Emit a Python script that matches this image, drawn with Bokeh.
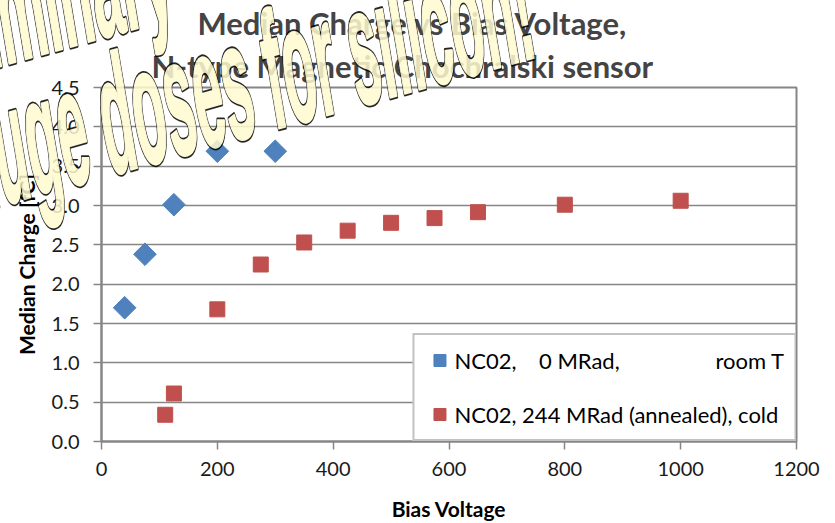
import math
from bokeh.plotting import figure
from bokeh.models import (Range1d, FixedTicker, NumeralTickFormatter, Legend,
                          LegendItem, Title, GridBox, Div)
from bokeh.embed import file_html
from bokeh.resources import INLINE

# ---------------- data ----------------
title_line1 = "Median Charge vs Bias Voltage,"
title_line2 = "N-type Magnetic Chochralski sensor"
x_label = "Bias Voltage"
y_label = "Median Charge [fC]"

x_ticks = [0, 200, 400, 600, 800, 1000, 1200]
y_ticks = [0.0, 0.5, 1.0, 1.5, 2.0, 2.5, 3.0, 3.5, 4.0, 4.5]

NB = "\u00a0"
s1_name = "NC02," + NB * 4 + "0 MRad," + NB * 17 + "room T"
s1_voltage = [40, 75, 125, 200, 300]
s1_charge = [1.70, 2.38, 3.01, 3.69, 3.69]

s2_name = "NC02, 244 MRad (annealed), cold"
s2_voltage = [110, 125, 200, 275, 350, 425, 500, 575, 650, 800, 1000]
s2_charge = [0.34, 0.61, 1.68, 2.25, 2.53, 2.68, 2.78, 2.84, 2.915, 3.01, 3.06]

watermark_line1 = "Preliminary"
watermark_line2 = "huge doses for silicon!"

# ---------------- styles ----------------
FONT = "Lato"
GRAY = "#868686"
BLUE = "#4F81BD"
RED = "#C0504D"
W, H = 835, 523

p = figure(width=W, height=H, output_backend="svg", toolbar_location=None,
           x_range=Range1d(0, 1200), y_range=Range1d(0, 4.5),
           min_border_left=101, min_border_right=39, min_border_top=84,
           min_border_bottom=81, background_fill_color="white",
           border_fill_color="white")

p.outline_line_color = GRAY
p.outline_line_width = 2

p.xgrid.visible = False
p.ygrid.grid_line_color = GRAY
p.ygrid.grid_line_width = 1.5
p.ygrid.ticker = FixedTicker(ticks=y_ticks)

p.xaxis.ticker = FixedTicker(ticks=x_ticks)
p.yaxis.ticker = FixedTicker(ticks=y_ticks)
p.yaxis.formatter = NumeralTickFormatter(format="0.0")

for ax in (p.xaxis[0], p.yaxis[0]):
    ax.axis_line_color = GRAY
    ax.axis_line_width = 2
    ax.major_tick_line_color = GRAY
    ax.major_tick_line_width = 1.5
    ax.major_tick_in = 0
    ax.major_tick_out = 8
    ax.minor_tick_line_color = None
    ax.major_label_text_font = FONT
    ax.major_label_text_font_size = "20px"
    ax.major_label_text_color = "#1a1a1a"
    ax.axis_label_text_font = FONT
    ax.axis_label_text_font_style = "bold"
    ax.axis_label_text_font_size = "21px"
    ax.axis_label_text_color = "black"

p.xaxis.axis_label = x_label
p.yaxis.axis_label = y_label
p.xaxis.major_label_standoff = 12
p.xaxis.axis_label_standoff = 17
p.yaxis.major_label_standoff = 14
p.yaxis.axis_label_standoff = 10

# titles (line 2 added first: closest to the frame)
t2 = Title(text=title_line2, text_font=FONT, text_font_style="bold",
           text_font_size="31px", align="left", offset=50, standoff=5)
t1 = Title(text=title_line1, text_font=FONT, text_font_style="bold",
           text_font_size="31px", align="left", offset=96, standoff=2)
p.add_layout(t2, "above")
p.add_layout(t1, "above")

r1 = p.scatter(s1_voltage, s1_charge, marker="square", angle=math.pi / 4,
               size=16, fill_color=BLUE, line_color=BLUE)
r2 = p.scatter(s2_voltage, s2_charge, marker="square", size=15,
               fill_color=RED, line_color=RED)

legend = Legend(items=[LegendItem(label=s1_name, renderers=[r1]),
                       LegendItem(label=s2_name, renderers=[r2])],
                location="bottom_right", margin=0, padding=10,
                glyph_width=30, glyph_height=30, label_standoff=-4,
                spacing=24, label_text_font=FONT, label_text_font_size="22px",
                label_text_color="black", border_line_color=GRAY,
                border_line_width=2, background_fill_color="white",
                background_fill_alpha=1.0)
p.add_layout(legend, "center")

# ---- WordArt-like watermark laid over the chart (same grid cell) ----
WM_FONT = "'Liberation Sans Narrow', 'Roboto Condensed', 'Liberation Sans', sans-serif"
WM_FILL = "#FFFBD0"


def wordart(txt, cx, cy, anchor, length, sy, rot=15.5, skew=-6):
    common = (f'x="0" y="0" text-anchor="{anchor}" textLength="{length}" '
              f'lengthAdjust="spacingAndGlyphs" font-family="{WM_FONT}" '
              f'font-weight="bold" font-size="100" '
              f'transform="translate({cx},{cy}) rotate({-rot}) skewX({skew}) '
              f'scale(1,{sy})"')
    return (f'<text {common} fill="{WM_FILL}" stroke="black" stroke-width="5" '
            f'stroke-linejoin="round" vector-effect="non-scaling-stroke">{txt}</text>'
            f'<text {common} fill="{WM_FILL}" stroke="{WM_FILL}" stroke-width="2" '
            f'stroke-linejoin="round" vector-effect="non-scaling-stroke">{txt}</text>')


svg = (f'<svg xmlns="http://www.w3.org/2000/svg" width="{W}" height="{H}" '
       f'style="display:block;overflow:hidden"><g opacity="0.85">'
       + wordart(watermark_line1, 177, 17, "end", 296, 1.5)
       + wordart(watermark_line2, 255, 135, "middle", 590, 1.65)
       + '</g></svg>')
wm = Div(text=svg, width=W, height=H,
         styles={"pointer-events": "none", "margin": "0", "padding": "0"})

layout = GridBox(children=[(p, 0, 0), (wm, 0, 0)])

open("out.html", "w").write(file_html(layout, INLINE))
